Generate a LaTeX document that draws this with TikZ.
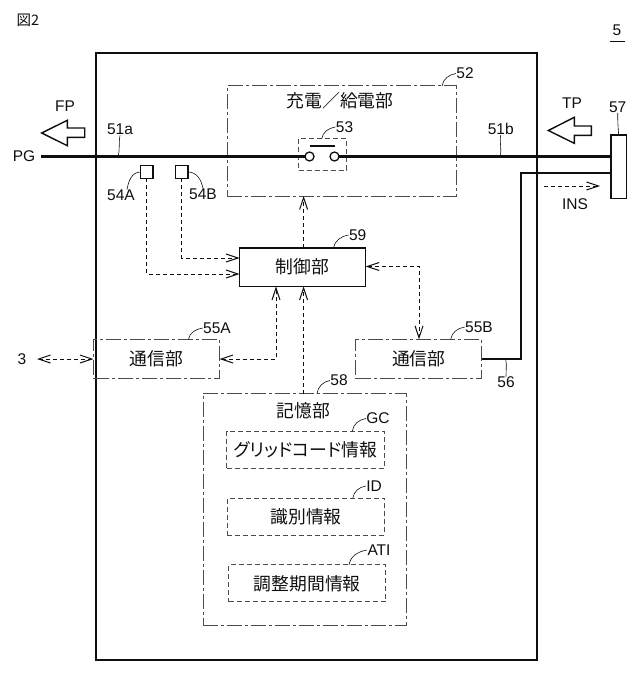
\documentclass[tikz,border=0pt]{standalone}
\usepackage{fontspec}
\setmainfont{Liberation Sans}
\newfontfamily\cjk{Noto Sans CJK JP}
\newfontfamily\cjkp[RawFeature=+palt]{Noto Sans CJK JP}
\usetikzlibrary{arrows.meta,positioning}
\definecolor{pslink}{RGB}{15,15,15}
\definecolor{psgray}{RGB}{75,75,75}
\tikzset{
  solidbox/.style={draw=pslink, line width=1.5pt, inner sep=0pt, outer sep=0pt},
  chainbox/.style={draw=psgray, line width=1pt, inner sep=0pt, outer sep=0pt, dash pattern=on 15pt off 3pt on 3pt off 3pt},
  dashbox/.style={draw=psgray, line width=1pt, inner sep=0pt, outer sep=0pt, dash pattern=on 5pt off 3pt},
  lab/.style={font=\fontsize{15.5}{18}\selectfont, text=pslink, inner sep=0.5pt, outer sep=0pt},
  jplab/.style={font=\cjk\fontsize{17.8}{20}\selectfont, text=pslink, inner sep=0pt},
  bus/.style={draw=pslink, line width=2.6pt},
  wire/.style={draw=pslink, line width=1.9pt, line join=miter},
  sig/.style={draw=pslink, line width=1pt, dash pattern=on 4pt off 3pt, -{Straight Barb[length=12pt,width=8pt,line width=1pt]}},
  sigboth/.style={sig, {Straight Barb[length=12pt,width=8pt,line width=1pt]}-{Straight Barb[length=12pt,width=8pt,line width=1pt]}},
  leader/.style={draw=pslink, line width=0.6pt},
  blockarrow/.style={draw=pslink, line width=1.4pt, fill=white, line join=miter},
}
\begin{document}
\begin{tikzpicture}[x=1pt,y=-1pt]
\useasboundingbox (0,0) rectangle (640,674);
% Device frame
\node[solidbox, minimum width=441, minimum height=607] (dev) at (316.5,356.5) {};
\node[lab, font=\cjk\fontsize{14.5}{17}\selectfont] (figno) at (28,20) {図2};
\node[lab] (devno) at (617,30) {5};
\draw[leader, line width=1pt] ([xshift=-7.5pt,yshift=-6pt]devno.south) -- ([xshift=7.5pt,yshift=-6pt]devno.south);
% Charge block and switch
\node[chainbox, minimum width=229, minimum height=110] (chg) at (341.5,141) {};
\node[jplab] (chgtxt) at (340,101) {充電／給電部};
\node[dashbox, minimum width=48, minimum height=31.5] (swbox) at (322.7,154.5) {};
\node[circle, draw=pslink, line width=1.3pt, minimum size=9, inner sep=0pt, outer sep=0pt] (swa) at (309.5,156.5) {};
\node[circle, draw=pslink, line width=1.3pt, minimum size=9, inner sep=0pt, outer sep=0pt] (swb) at (334.5,156.5) {};
\draw[pslink, line width=1.3pt] ([yshift=6pt]swa.north) -- ([yshift=6pt]swb.north);
% Connector, bus and signal line
\node[solidbox, minimum width=15.5, minimum height=63.5] (conn) at (618.7,166.7) {};
\coordinate (busend) at (41,156.5);
\draw[bus] (busend) -- (swa.west);
\draw[bus] (swb.east) -- (conn.west |- busend);
% Sensors
\node[solidbox, line width=1.3pt, minimum width=12.5, minimum height=12.5] (senA) at (146.7,172) {};
\node[solidbox, line width=1.3pt, minimum width=12.5, minimum height=12.5] (senB) at (181.8,172) {};
% Control
\node[solidbox, jplab, minimum width=126, minimum height=38.5] (ctrl) at (302.6,267.2) {制御部};
% Communication
\node[chainbox, jplab, minimum width=126, minimum height=39.4] (comA) at (156.5,359) {通信部};
\node[chainbox, jplab, minimum width=126, minimum height=39.4] (comB) at (418.7,359) {通信部};
% Storage
\node[chainbox, minimum width=203.7, minimum height=232] (mem) at (304.9,509.7) {};
\node[jplab] (memtxt) at (303.5,410.7) {記憶部};
\node[dashbox, jplab, font=\cjkp\fontsize{17.8}{20}\selectfont, minimum width=157.6, minimum height=37] (gc) at (305.5,449.5) {グリッドコード情報};
\node[dashbox, jplab, minimum width=157.4, minimum height=36.7] (idb) at (306,516.7) {識別情報};
\node[dashbox, jplab, minimum width=157.3, minimum height=36.7] (ati) at (307.3,583.3) {調整期間情報};
% Wire 56
\coordinate (wiretop) at (521,173);
\draw[wire] (comB.east) -| (wiretop) -- (conn.west |- wiretop);
% Signals
\coordinate (inA) at (239.6,274);
\coordinate (inB) at (239.6,258);
\coordinate (ext) at (37,359);
\coordinate (insa) at (544,186);
\coordinate (insb) at (600,186);
\coordinate (ctrlr) at (365.6,266.5);
\coordinate (ctrlb) at (276,286.4);
\coordinate (ctrlm) at (303.6,286.4);
\coordinate (comin) at (419,339.4);
\coordinate (chgb) at (303.6,196);
\coordinate (ctrlt) at (303.6,248);
\coordinate (memt) at (303.6,393.7);
\draw[sig] (senA.south) |- (inA);
\draw[sig] (senB.south) |- (inB);
\draw[sig] (ctrlt) -- (chgb);
\draw[sig] (memt) -- (ctrlm);
\draw[sigboth] (comA.east) -| (ctrlb);
\draw[sigboth] (ctrlr) -| (comin);
\draw[sigboth] (ext) -- (comA.west);
\draw[sig] (insa) -- (insb);
% Power flow arrows
\draw[blockarrow] (41.7,133) -- (67.3,120.3) -- (67.3,128) -- (84.7,128) -- (84.7,137.3) -- (67.3,137.3) -- (67.3,145.7) -- cycle;
\draw[blockarrow] (548.3,130.5) -- (574.3,117.3) -- (574.3,126) -- (591.3,126) -- (591.3,135.3) -- (574.3,135.3) -- (574.3,143.3) -- cycle;
% Labels
\node[lab] (fp) at (65,106) {FP};
\node[lab] (tp) at (572,103.5) {TP};
\node[lab] (pg) at (24,156.5) {PG};
\node[lab] (ins) at (575,204) {INS};
\node[lab] (ext3) at (22,359) {3};
\node[lab] (l51a) at (120,129.5) {51a};
\node[lab] (l51b) at (500.7,129) {51b};
\node[lab] (l52) at (465,73.5) {52};
\node[lab] (l53) at (344.5,127) {53};
\node[lab] (l54a) at (121,195.5) {54A};
\node[lab] (l54b) at (203,194.5) {54B};
\node[lab] (l55a) at (217,328) {55A};
\node[lab] (l55b) at (479,327) {55B};
\node[lab] (l56) at (506,382.5) {56};
\node[lab] (l57) at (617.7,107) {57};
\node[lab] (l58) at (339,380.5) {58};
\node[lab] (l59) at (357.7,235) {59};
\node[lab] (lgc) at (378,418.5) {GC};
\node[lab] (lid) at (374,486) {ID};
\node[lab] (lati) at (379,550) {ATI};
% Leaders
\coordinate (bus51a) at (118,156.5);
\coordinate (bus51b) at (500,156.5);
\draw[leader] (bus51a) to[out=75,in=-100] (l51a.south);
\draw[leader] (bus51b) to[out=75,in=-100] (l51b.south);
\draw[leader] ([xshift=-14pt]chg.north east) to[out=80,in=190] (l52.west);
\draw[leader] ([xshift=-1pt]swbox.north) to[out=80,in=190] (l53.west);
\draw[leader] (senA.west) to[out=180,in=80] ([xshift=6pt]l54a.north);
\draw[leader] (senB.east) to[out=0,in=100] (l54b.north);
\draw[leader] ([xshift=-31pt]comA.north east) to[out=80,in=190] (l55a.west);
\draw[leader] ([xshift=-31pt]comB.north east) to[out=80,in=190] (l55b.west);
\draw[leader] ([xshift=24pt]comB.east) to[out=-80,in=90] (l56.north);
\draw[leader] (conn.north) to[out=95,in=-90] (l57.south);
\draw[leader] ([xshift=12pt]mem.north) to[out=80,in=190] (l58.west);
\draw[leader] ([xshift=-32pt]ctrl.north east) to[out=80,in=190] (l59.west);
\draw[leader] ([xshift=-32pt]gc.north east) to[out=80,in=190] (lgc.west);
\draw[leader] ([xshift=-32pt]idb.north east) to[out=80,in=190] (lid.west);
\draw[leader] ([xshift=-37pt]ati.north east) to[out=80,in=190] (lati.west);
\end{tikzpicture}
\end{document}
